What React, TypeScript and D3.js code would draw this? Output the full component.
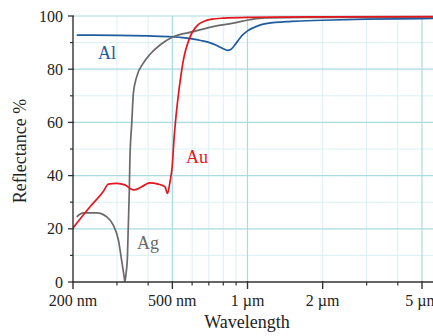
import React from "react";
import * as d3 from "d3";

const alWave = [207, 300, 400, 500, 550, 600, 650, 700, 750, 800, 830, 860, 900, 950, 1000, 1100, 1200, 1500, 2000, 3000, 5000, 6000];
const alRefl = [92.8, 92.7, 92.5, 92.2, 91.9, 91.4, 90.8, 90.1, 89.0, 87.7, 87.1, 87.5, 89.8, 92.6, 94.4, 96.3, 97.2, 98.0, 98.4, 98.8, 99.0, 99.1];

const auWave = [200, 234, 264, 277, 299, 323, 349, 377, 406, 439, 467, 478, 489, 500, 508, 518, 528, 540, 555, 575, 600, 630, 670, 720, 800, 1000, 2000, 6000];
const auRefl = [20.3, 28.3, 33.9, 36.8, 37.1, 36.5, 34.6, 35.8, 37.3, 36.8, 35.8, 33.3, 37.5, 44, 54, 63, 70, 77, 84, 89.5, 93.8, 96.5, 98.0, 98.8, 99.2, 99.5, 99.7, 99.8];

const agWave = [207, 220, 249, 273, 290, 304, 313, 321, 322.5, 326, 330, 333, 336, 338, 344, 349, 360, 382, 406, 446, 504, 606, 728, 875, 1021, 1170, 2000, 6000];
const agRefl = [24.5, 26, 26, 24.5, 21.4, 15.8, 8.3, 1.5, 0, 3, 8.3, 20.8, 33.4, 45.9, 60, 70.9, 77.2, 82.2, 85.5, 89.1, 92.2, 94.1, 96, 97.3, 98.6, 99.3, 99.5, 99.6];

const yTicksMajor = [0, 20, 40, 60, 80, 100];
const yTicksMinor = [10, 30, 50, 70, 90];
const xTicksMajor = [200, 500, 1000, 2000, 5000];
const xTickLabels = ["200 nm", "500 nm", "1 µm", "2 µm", "5 µm"];
const xTicksMinor = [300, 400, 600, 700, 800, 900, 3000, 4000];
const xGridMajor = [500, 1000, 5000];
const xGridMinor = [300, 400, 600, 700, 800, 900, 2000, 3000, 4000];

const series = [
  { name: "Al", wave: alWave, refl: alRefl, color: "#1f5b9f", lx: 98, ly: 59 },
  { name: "Ag", wave: agWave, refl: agRefl, color: "#6a6a6a", lx: 137, ly: 249 },
  { name: "Au", wave: auWave, refl: auRefl, color: "#e5161d", lx: 186, ly: 163 },
];

const W = 433;
const H = 336;
const FONT = "Liberation Serif, Times New Roman, serif";

export default function App() {
  const x = d3.scaleLog().domain([200, 5000]).range([73, 422]);
  const y = d3.scaleLinear().domain([0, 100]).range([282, 16]);
  const left = 73;
  const right = W;

  const line = d3
    .line<[number, number]>()
    .x((d) => x(d[0]))
    .y((d) => y(d[1]))
    .curve(d3.curveMonotoneX);

  const ts = { fontFamily: FONT };

  return (
    <svg
      width={W}
      height={H}
      style={{ position: "absolute", left: 0, top: 0, background: "#fff" }}
    >
      <defs>
        <clipPath id="plot">
          <rect x={left} y={0} width={right - left} height={282} />
        </clipPath>
      </defs>
      {yTicksMinor.map((t) => (
        <line key={"ym" + t} x1={left} x2={right} y1={y(t)} y2={y(t)} stroke="#dcf0f4" strokeWidth={1} />
      ))}
      {xGridMinor.map((t) => (
        <line key={"xm" + t} x1={x(t)} x2={x(t)} y1={y(100)} y2={y(0)} stroke="#dcf0f4" strokeWidth={1} />
      ))}
      {yTicksMajor.filter((t) => t > 0).map((t) => (
        <line key={"yM" + t} x1={left} x2={right} y1={y(t)} y2={y(t)} stroke="#a9dbe3" strokeWidth={1.2} />
      ))}
      {xGridMajor.map((t) => (
        <line key={"xM" + t} x1={x(t)} x2={x(t)} y1={y(100)} y2={y(0)} stroke="#a9dbe3" strokeWidth={1.2} />
      ))}

      <g clipPath="url(#plot)">
        {series.map((s) => (
          <path
            key={s.name}
            d={line(s.wave.map((w, i) => [w, s.refl[i]] as [number, number])) || ""}
            fill="none"
            stroke={s.color}
            strokeWidth={1.7}
            strokeLinejoin="round"
          />
        ))}
      </g>

      <line x1={left} x2={right} y1={y(0)} y2={y(0)} stroke="#333" strokeWidth={1.4} />
      <line x1={left} x2={left} y1={y(100)} y2={y(0)} stroke="#333" strokeWidth={1.4} />
      {yTicksMajor.map((t) => (
        <g key={"yt" + t}>
          <line x1={left - 5} x2={left + 1} y1={y(t)} y2={y(t)} stroke="#333" strokeWidth={1.3} />
          <text x={63} y={y(t)} dy="0.35em" textAnchor="end" fontSize={16} fill="#222" style={ts}>
            {t}
          </text>
        </g>
      ))}
      {yTicksMinor.map((t) => (
        <line key={"ytm" + t} x1={left - 3} x2={left} y1={y(t)} y2={y(t)} stroke="#333" strokeWidth={1.2} />
      ))}
      {xTicksMajor.map((t, i) => (
        <g key={"xt" + t}>
          <line x1={x(t)} x2={x(t)} y1={y(0) - 1} y2={y(0) + 7} stroke="#333" strokeWidth={1.4} />
          <text x={x(t)} y={306} textAnchor="middle" fontSize={16} fill="#222" style={ts}>
            {xTickLabels[i]}
          </text>
        </g>
      ))}
      {xTicksMinor.map((t) => (
        <line key={"xtm" + t} x1={x(t)} x2={x(t)} y1={y(0)} y2={y(0) + 3.5} stroke="#333" strokeWidth={1.2} />
      ))}

      <text x={247} y={328} textAnchor="middle" fontSize={18} fill="#222" style={ts}>
        Wavelength
      </text>
      <text transform="translate(26,151) rotate(-90)" textAnchor="middle" fontSize={18} fill="#222" style={ts}>
        Reflectance %
      </text>

      {series.map((s) => (
        <text key={"l" + s.name} x={s.lx} y={s.ly} fontSize={18} fill={s.color} style={ts}>
          {s.name}
        </text>
      ))}
    </svg>
  );
}
